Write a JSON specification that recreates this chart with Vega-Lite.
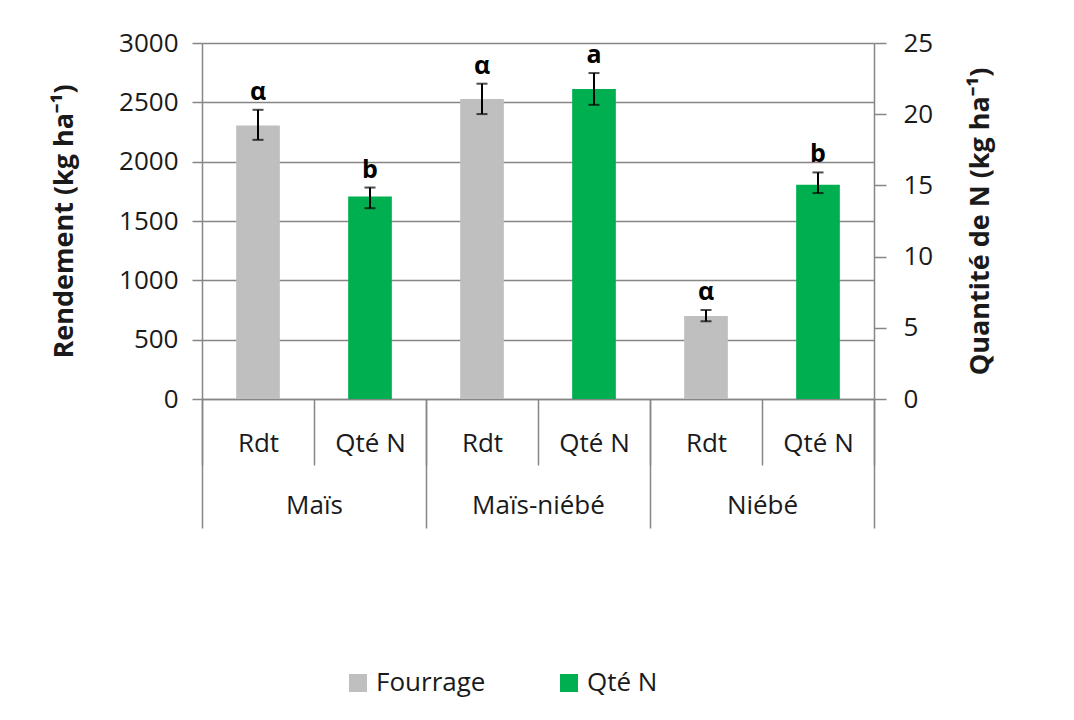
{
  "$schema": "https://vega.github.io/schema/vega-lite/v6.json",
  "width": 672,
  "height": 356,
  "autosize": {"type": "none"},
  "padding": {"left": 202, "top": 43, "right": 200, "bottom": 321},
  "background": "white",
  "config": {
    "font": "Open Sans",
    "view": {"stroke": null},
    "axis": {
      "domainColor": "#868686",
      "tickColor": "#868686",
      "gridColor": "#868686",
      "labelColor": "#1a1a1a",
      "titleColor": "#1a1a1a",
      "labelFont": "Open Sans",
      "titleFont": "Open Sans",
      "labelFontSize": 26,
      "titleFontSize": 27,
      "titleFontWeight": "bold",
      "domainWidth": 1.5,
      "tickWidth": 1.5,
      "gridWidth": 1.5
    },
    "legend": {"labelFont": "Open Sans", "labelColor": "#1a1a1a"}
  },
  "datasets": {
    "bars": [
      {"group": "Maïs", "sub": "Rdt", "key": "Maïs|Rdt", "series": "Fourrage", "value": 2305, "lo": 2184, "hi": 2437, "letter": "α"},
      {"group": "Maïs", "sub": "Qté N", "key": "Maïs|Qté N", "series": "Qté N", "value": 14.22, "lo": 13.4, "hi": 14.85, "letter": "b"},
      {"group": "Maïs-niébé", "sub": "Rdt", "key": "Maïs-niébé|Rdt", "series": "Fourrage", "value": 2528, "lo": 2401, "hi": 2657, "letter": "α"},
      {"group": "Maïs-niébé", "sub": "Qté N", "key": "Maïs-niébé|Qté N", "series": "Qté N", "value": 21.77, "lo": 20.66, "hi": 22.89, "letter": "a"},
      {"group": "Niébé", "sub": "Rdt", "key": "Niébé|Rdt", "series": "Fourrage", "value": 700, "lo": 655, "hi": 750, "letter": "α"},
      {"group": "Niébé", "sub": "Qté N", "key": "Niébé|Qté N", "series": "Qté N", "value": 15.04, "lo": 14.46, "hi": 15.91, "letter": "b"}
    ],
    "groups": [
      {"group": "Maïs"},
      {"group": "Maïs-niébé"},
      {"group": "Niébé"}
    ]
  },
  "layer": [
    {
      "layer": [
        {
          "data": {"name": "bars"},
          "transform": [{"filter": "datum.sub == 'Rdt'"}],
          "encoding": {
            "x": {
              "field": "key", "type": "nominal", "sort": null,
              "scale": {"domain": ["Maïs|Rdt", "Maïs|Qté N", "Maïs-niébé|Rdt", "Maïs-niébé|Qté N", "Niébé|Rdt", "Niébé|Qté N"], "paddingInner": 0, "paddingOuter": 0},
              "axis": {"orient": "bottom", "tickBand": "extent", "tickSize": 66, "labelPadding": -35, "labelAngle": 0, "labelExpr": "split(datum.label, '|')[1]", "title": null, "grid": false, "domain": true}
            }
          },
          "layer": [
            {
              "mark": {"type": "bar", "width": {"band": 0.39}},
              "encoding": {
                "y": {"field": "value", "type": "quantitative", "scale": {"domain": [0, 3000]}, "title": "Rendement (kg ha⁻¹)",
                  "axis": {"orient": "left", "values": [0, 500, 1000, 1500, 2000, 2500, 3000], "format": "d", "grid": true, "tickSize": 10, "labelPadding": 14, "titlePadding": 40}},
                "color": {"field": "series", "type": "nominal",
                  "scale": {"domain": ["Fourrage", "Qté N"], "range": ["#bfbfbf", "#00b050"]},
                  "legend": {"orient": "none", "legendX": 143, "legendY": 627, "direction": "horizontal", "title": null, "symbolType": "square", "symbolSize": 324, "symbolStrokeWidth": 0, "labelFontSize": 26, "labelOffset": 5, "columnPadding": 70}}
              }
            },
            {
              "mark": {"type": "errorbar", "ticks": {"size": 11, "thickness": 2, "color": "black"}, "rule": {"strokeWidth": 2, "color": "black"}},
              "encoding": {
                "y": {"field": "lo", "type": "quantitative", "scale": {"domain": [0, 3000]}, "title": "Rendement (kg ha⁻¹)"},
                "y2": {"field": "hi"}
              }
            },
            {
              "mark": {"type": "text", "dy": -10, "baseline": "alphabetic", "fontSize": 25, "fontWeight": "bold", "color": "black"},
              "encoding": {
                "y": {"field": "hi", "type": "quantitative", "scale": {"domain": [0, 3000]}, "title": "Rendement (kg ha⁻¹)"},
                "text": {"field": "letter"}
              }
            }
          ]
        },
        {
          "data": {"name": "bars"},
          "transform": [{"filter": "datum.sub == 'Qté N'"}],
          "encoding": {
            "x": {"field": "key", "type": "nominal", "sort": null}
          },
          "layer": [
            {
              "mark": {"type": "bar", "width": {"band": 0.39}},
              "encoding": {
                "y": {"field": "value", "type": "quantitative", "scale": {"domain": [0, 25]}, "title": "Quantité de N (kg ha⁻¹)",
                  "axis": {"orient": "right", "values": [0, 5, 10, 15, 20, 25], "grid": false, "tickSize": 12, "labelPadding": 17, "titlePadding": 62, "titleAngle": 270}},
                "color": {"field": "series", "type": "nominal"}
              }
            },
            {
              "mark": {"type": "errorbar", "ticks": {"size": 11, "thickness": 2, "color": "black"}, "rule": {"strokeWidth": 2, "color": "black"}},
              "encoding": {
                "y": {"field": "lo", "type": "quantitative", "scale": {"domain": [0, 25]}, "title": "Quantité de N (kg ha⁻¹)"},
                "y2": {"field": "hi"}
              }
            },
            {
              "mark": {"type": "text", "dy": -10, "baseline": "alphabetic", "fontSize": 25, "fontWeight": "bold", "color": "black"},
              "encoding": {
                "y": {"field": "hi", "type": "quantitative", "scale": {"domain": [0, 25]}, "title": "Quantité de N (kg ha⁻¹)"},
                "text": {"field": "letter"}
              }
            }
          ]
        }
      ],
      "resolve": {"scale": {"y": "independent"}}
    },
    {
      "data": {"name": "groups"},
      "mark": {"type": "rule", "opacity": 0},
      "encoding": {
        "x": {
          "field": "group", "type": "nominal", "sort": null,
          "scale": {"domain": ["Maïs", "Maïs-niébé", "Niébé"], "paddingInner": 0, "paddingOuter": 0},
          "axis": {"orient": "bottom", "tickBand": "extent", "tickSize": 129, "labelPadding": -36, "labelAngle": 0, "domain": false, "title": null, "grid": false}
        }
      }
    }
  ],
  "resolve": {"scale": {"x": "independent"}}
}
